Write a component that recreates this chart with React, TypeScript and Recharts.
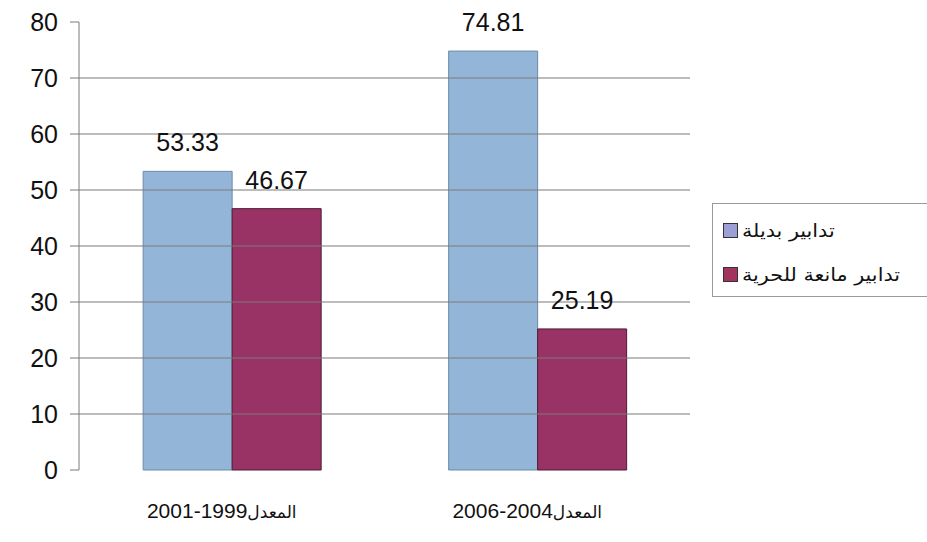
import { BarChart, Bar, XAxis, YAxis, ReferenceLine, LabelList } from "recharts";

// ---------------------------------------------------------------------------
// Data
// ---------------------------------------------------------------------------

const periodWords = ["المعدل", "المعدل"];
const periodYears = ["1999-2001", "2004-2006"];
const seriesNames = ["تدابير بديلة", "تدابير مانعة للحرية"];
const alternative = [53.33, 74.81];
const custodial = [46.67, 25.19];
const yTicks = [0, 10, 20, 30, 40, 50, 60, 70, 80];
const gridValues = [10, 20, 30, 40, 50, 60, 70];
const boundaryTicks = [0, 1, 2];

const COLORS = ["#93B6D8", "#993366"];
const STROKES = ["#6d8aa8", "#4d1a33"];
const LEGEND_SWATCH = ["#9c9fd6", "#a3335f"];
const AXIS = "#7a7a7a";
const FONT = "'Liberation Sans', Arial, sans-serif";

const data = periodYears.map((y, i) => ({
  period: periodWords[i] + y,
  word: periodWords[i],
  years: y,
  alternative: alternative[i],
  custodial: custodial[i],
}));

// Category label: smaller Arabic word + larger year range
function PeriodTick({ x, y, index }: any) {
  const d = data[index];
  if (!d) return null;
  return (
    <text x={x - 10} y={y} dy={30} textAnchor="middle" fill="#111" fontFamily={FONT}>
      <tspan fontSize={17} fontFamily="'DejaVu Sans', sans-serif">{d.word}</tspan>
      <tspan fontSize={21}>{d.years}</tspan>
    </text>
  );
}

export default function App() {
  const labelStyle = { fontSize: 25, fill: "#111", fontFamily: FONT };
  return (
    <div style={{ position: "relative", width: 927, height: 542, background: "#fff", fontFamily: FONT, overflow: "hidden" }}>
      <style>{"body{margin:0}"}</style>
      <BarChart
        width={927}
        height={542}
        data={data}
        margin={{ top: 22, right: 237, left: 19, bottom: 32 }}
        barCategoryGap="21%"
        barGap={0}
      >
        <XAxis
          xAxisId="edges"
          type="number"
          domain={[0, 2]}
          ticks={boundaryTicks}
          height={0}
          tickFormatter={() => ""}
          tickSize={8}
          tickLine={{ stroke: AXIS }}
          axisLine={{ stroke: AXIS }}
        />
        <XAxis
          dataKey="period"
          height={40}
          tickLine={false}
          axisLine={false}
          tickMargin={12}
          tick={<PeriodTick />}
        />
        <YAxis
          width={60}
          domain={[0, 80]}
          ticks={yTicks}
          interval={0}
          tickSize={9}
          tickMargin={12}
          tick={{ fontSize: 25, fill: "#111", fontFamily: FONT }}
          tickLine={{ stroke: AXIS }}
          axisLine={{ stroke: AXIS }}
        />
        {gridValues.map((v) => (
          <ReferenceLine key={v} y={v} stroke={AXIS} strokeWidth={1.2} />
        ))}
        <Bar dataKey="alternative" name={seriesNames[0]} fill={COLORS[0]} stroke={STROKES[0]} isAnimationActive={false}>
          <LabelList dataKey="alternative" position="top" offset={20} style={labelStyle} />
        </Bar>
        <Bar dataKey="custodial" name={seriesNames[1]} fill={COLORS[1]} stroke={STROKES[1]} isAnimationActive={false}>
          <LabelList dataKey="custodial" position="top" offset={20} style={labelStyle} />
        </Bar>
      </BarChart>

      {/* Legend */}
      <div
        style={{
          position: "absolute",
          left: 712,
          top: 203,
          width: 240,
          height: 94,
          border: "1px solid #9a9a9a",
          boxSizing: "border-box",
          padding: "4px 0 0 10px",
        }}
      >
        {seriesNames.map((name, i) => (
          <div key={name} style={{ display: "flex", alignItems: "center", height: 44, whiteSpace: "nowrap" }}>
            <span
              style={{
                width: 13,
                height: 13,
                background: LEGEND_SWATCH[i],
                border: "1px solid #333",
                marginRight: 4,
                flex: "none",
              }}
            />
            <span
              dir="rtl"
              style={{
                display: "inline-block",
                fontSize: 18,
                color: "#111",
                fontFamily: "'DejaVu Sans', sans-serif",
                transform: "scaleX(1.15)",
                transformOrigin: "left center",
              }}
            >
              {name}
            </span>
          </div>
        ))}
      </div>
    </div>
  );
}
